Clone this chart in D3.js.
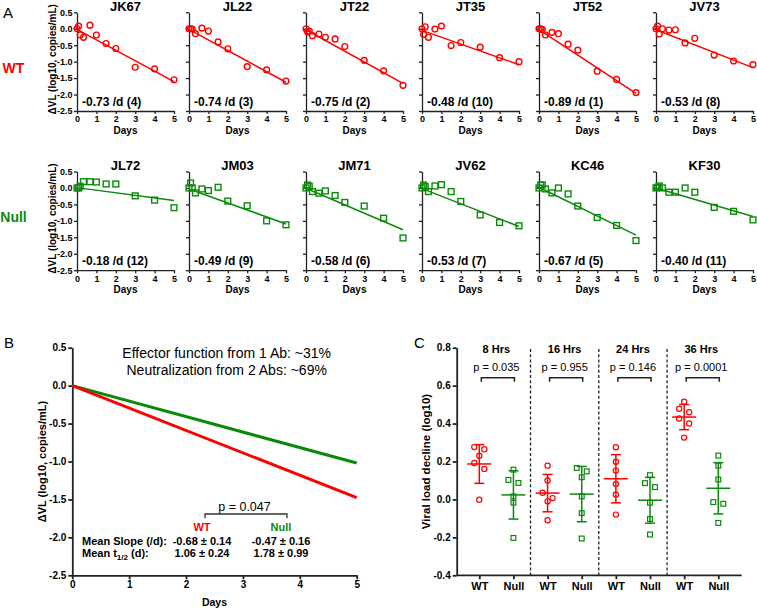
<!DOCTYPE html>
<html><head><meta charset="utf-8">
<script src="https://cdn.jsdelivr.net/npm/d3@7"></script>
<style>
body{margin:0;background:#fff;}
svg{display:block;font-family:"Liberation Sans",Arial,sans-serif;}
.ax path,.ax line{stroke:#222;}
.ax text{fill:#000;font-weight:bold;}
</style></head><body>
<svg id="chart" width="757" height="608"></svg>
<script>
// ---------- DATA ----------
const days = [0, 0.083, 0.167, 0.333, 0.667, 1, 1.5, 2, 3, 4, 5];
const dayTicks = [0, 1, 2, 3, 4, 5];
const vlTicks = [-2.5, -2.0, -1.5, -1.0, -0.5, 0.0, 0.5];

const wtNames = ["JK67", "JL22", "JT22", "JT35", "JT52", "JV73"];
const wtSlopes = [-0.73, -0.74, -0.75, -0.48, -0.89, -0.53];
const wtRanks = [4, 3, 2, 10, 1, 8];
const wtIntercepts = [-0.02, -0.02, -0.03, -0.05, -0.03, -0.03];
const wtValues = [
  [0, 0.08, -0.19, -0.26, 0.11, -0.19, -0.45, -0.60, -1.17, -1.22, -1.55],
  [0, 0.00, -0.01, -0.15, 0.02, -0.07, -0.40, -0.61, -1.15, -1.25, -1.59],
  [0, -0.10, -0.07, -0.21, -0.16, -0.26, -0.31, -0.54, -0.96, -1.28, -1.72],
  [0, -0.17, 0.06, -0.26, -0.01, 0.08, -0.51, -0.42, -0.56, -0.88, -1.00],
  [0, 0.00, -0.02, -0.19, -0.11, -0.15, -0.47, -0.65, -1.29, -1.54, -1.94],
  [0, 0.08, -0.16, 0.00, -0.04, -0.03, -0.43, -0.29, -0.80, -0.98, -1.09]
];

const nullNames = ["JL72", "JM03", "JM71", "JV62", "KC46", "KF30"];
const nullSlopes = [-0.18, -0.49, -0.58, -0.53, -0.67, -0.40];
const nullRanks = [12, 9, 6, 7, 5, 11];
const nullIntercepts = [0.01, -0.03, -0.01, -0.02, 0.02, 0.0];
const nullValues = [
  [0, 0.00, 0.05, 0.19, 0.19, 0.18, 0.12, 0.12, -0.24, -0.37, -0.60],
  [0, 0.15, 0.00, -0.15, -0.03, -0.08, 0.02, -0.40, -0.54, -1.00, -1.12],
  [0, 0.09, 0.05, -0.11, -0.16, -0.09, -0.23, -0.44, -0.55, -0.92, -1.52],
  [0, 0.09, 0.04, -0.11, 0.06, 0.10, -0.11, -0.41, -0.82, -1.05, -1.15],
  [0, 0.09, 0.09, -0.03, -0.15, 0.00, -0.18, -0.55, -0.90, -1.14, -1.60],
  [0, 0.02, 0.06, 0.00, -0.13, -0.13, 0.00, -0.13, -0.59, -0.71, -0.97]
];

// Panel B
const groupNames = ["WT", "Null"];
const meanSlopes = [-0.68, -0.47];
const slopeSD = [0.14, 0.16];
const meanHalfLife = [1.06, 1.78];
const halfLifeSD = [0.24, 0.99];
const slopeP = "0.047";
const contribText = ["Effector function from 1 Ab: ~31%", "Neutralization from 2 Abs: ~69%"];

// Panel C
const timeGroups = ["8 Hrs", "16 Hrs", "24 Hrs", "36 Hrs"];
const timeP = ["0.035", "0.955", "0.146", "0.0001"];
const declineTicks = [-0.4, -0.2, 0.0, 0.2, 0.4, 0.6, 0.8];
const declineWT = [
  [0.265, 0.276, 0.230, 0.192, 0.161, -0.002],
  [0.178, 0.100, 0.035, 0.007, -0.010, -0.110],
  [0.275, 0.199, 0.152, 0.082, 0.026, -0.080],
  [0.515, 0.478, 0.460, 0.427, 0.400, 0.326]
];
const declineNull = [
  [0.157, 0.103, 0.087, 0.016, -0.017, -0.203],
  [0.148, 0.166, 0.117, 0.016, -0.072, -0.206],
  [0.128, 0.086, 0.065, -0.017, -0.103, -0.185],
  [0.231, 0.178, 0.105, -0.014, -0.023, -0.124]
];

// ---------- DRAW ----------
const RED = "#ff0000", GREEN = "#0a8a0a";
const svg = d3.select("#chart");
const f1 = d => d.toFixed(1);
const LN10 = Math.log(10);

function styleAxis(g, w, fs) {
  g.attr("class", "ax");
  g.selectAll("path,line").attr("stroke-width", w);
  g.selectAll("text").attr("font-size", fs);
}

function marker(g, shape, cx, cy, color, r, sw) {
  if (shape === "circle") {
    g.append("circle").attr("cx", cx).attr("cy", cy).attr("r", r)
      .attr("fill", "none").attr("stroke", color).attr("stroke-width", sw);
  } else {
    g.append("rect").attr("x", cx - r).attr("y", cy - r).attr("width", 2 * r).attr("height", 2 * r)
      .attr("fill", "none").attr("stroke", color).attr("stroke-width", sw);
  }
}

// Panel A
const colX = [77, 189, 306, 422, 539, 656];
const panelW = 97;
const rowTop = [12.3, 171.5];
const panelH = 98.7;

function smallPanel(col, row, name, vals, slope, rank, icpt, color, shape) {
  const px = colX[col], top = rowTop[row];
  const x = d3.scaleLinear().domain([0, 5]).range([px, px + panelW]);
  const y = d3.scaleLinear().domain([-2.5, 0.5]).range([top + panelH, top]);
  const g = svg.append("g");
  const ay = g.append("g").attr("transform", `translate(${px},0)`)
    .call(d3.axisLeft(y).tickValues(vlTicks).tickSize(3).tickPadding(1.5).tickSizeOuter(0)
      .tickFormat(col === 0 ? f1 : ""));
  styleAxis(ay, 1.3, 9);
  const ax = g.append("g").attr("transform", `translate(0,${y(-2.5)})`)
    .call(d3.axisBottom(x).tickValues(dayTicks).tickSize(3).tickPadding(2).tickSizeOuter(0)
      .tickFormat(d3.format("d")));
  styleAxis(ax, 1.3, 9);
  g.append("text").attr("x", x(2.5)).attr("y", y(-2.5) + 23).attr("text-anchor", "middle")
    .attr("font-size", 10).attr("font-weight", "bold").text("Days");
  g.append("text").attr("x", x(2.5)).attr("y", top - 1.6).attr("text-anchor", "middle")
    .attr("font-size", 13).attr("font-weight", "bold").text(name);
  // fit line
  const k = slope / LN10;
  g.append("line").attr("x1", x(0)).attr("y1", y(icpt)).attr("x2", x(5)).attr("y2", y(icpt + k * 5))
    .attr("stroke", color).attr("stroke-width", 1.5);
  vals.forEach((v, i) => marker(g, shape, x(days[i]), y(v), color, 2.9, 1.4));
  g.append("text").attr("x", px + 5).attr("y", y(-2.5) - 5.5)
    .attr("font-size", 12).attr("font-weight", "bold")
    .text(`${slope.toFixed(2)} /d (${rank})`);
  if (col === 0) {
    g.append("text").attr("transform", `translate(52,${top + 47}) rotate(-90)`)
      .attr("text-anchor", "middle").attr("dy", "0.35em")
      .attr("font-size", 10).attr("font-weight", "bold").text("ΔVL (log10, copies/mL)");
  }
}
wtNames.forEach((n, i) => smallPanel(i, 0, n, wtValues[i], wtSlopes[i], wtRanks[i], wtIntercepts[i], RED, "circle"));
nullNames.forEach((n, i) => smallPanel(i, 1, n, nullValues[i], nullSlopes[i], nullRanks[i], nullIntercepts[i], GREEN, "square"));

svg.append("text").attr("x", 3).attr("y", 18).attr("font-size", 15).text("A");
svg.append("text").attr("x", 13.5).attr("y", 73.3).attr("text-anchor", "middle")
  .attr("font-size", 14).attr("font-weight", "bold").attr("fill", RED).text("WT");
svg.append("text").attr("x", 13.5).attr("y", 221.7).attr("text-anchor", "middle")
  .attr("font-size", 14).attr("font-weight", "bold").attr("fill", GREEN).text("Null");

// Panel B
{
  const x = d3.scaleLinear().domain([0, 5]).range([72.3, 356.7]);
  const y = d3.scaleLinear().domain([-2.5, 0.5]).range([575.3, 347.7]);
  const g = svg.append("g");
  const ay = g.append("g").attr("transform", `translate(${x(0)},0)`)
    .call(d3.axisLeft(y).tickValues(vlTicks).tickSize(4).tickPadding(2).tickSizeOuter(0).tickFormat(f1));
  styleAxis(ay, 1.8, 10);
  const ax = g.append("g").attr("transform", `translate(0,${y(-2.5)})`)
    .call(d3.axisBottom(x).tickValues(dayTicks).tickSize(4).tickPadding(2).tickSizeOuter(0).tickFormat(d3.format("d")));
  styleAxis(ax, 1.8, 10);
  g.append("text").attr("x", x(2.5)).attr("y", 606).attr("text-anchor", "middle")
    .attr("font-size", 10.5).attr("font-weight", "bold").text("Days");
  g.append("text").attr("transform", `translate(42,461.5) rotate(-90)`).attr("text-anchor", "middle")
    .attr("dy", "0.35em").attr("font-size", 11).attr("font-weight", "bold").text("ΔVL (log10, copies/mL)");
  const cols = [RED, GREEN];
  [1, 0].forEach(i => {
    const k = meanSlopes[i] / LN10;
    g.append("line").attr("x1", x(0)).attr("y1", y(0)).attr("x2", x(5)).attr("y2", y(k * 5))
      .attr("stroke", cols[i]).attr("stroke-width", 3);
  });
  contribText.forEach((t, i) => g.append("text").attr("x", 226.7).attr("y", 358.3 + i * 16.7)
    .attr("text-anchor", "middle").attr("font-size", 14).text(t));
  const cx = [202, 281];
  g.append("text").attr("x", 244.5).attr("y", 511).attr("text-anchor", "middle").attr("font-size", 12.5).text(`p = ${slopeP}`);
  g.append("path").attr("d", `M205,518.3V514H287V518.3`).attr("fill", "none").attr("stroke", "#333").attr("stroke-width", 1.3);
  groupNames.forEach((n, i) => {
    g.append("text").attr("x", cx[i]).attr("y", 531.3).attr("text-anchor", "middle")
      .attr("font-size", 11).attr("font-weight", "bold").attr("fill", cols[i]).text(n);
    g.append("text").attr("x", cx[i]).attr("y", 544.7).attr("text-anchor", "middle")
      .attr("font-size", 11).attr("font-weight", "bold").text(`${meanSlopes[i].toFixed(2)} ± ${slopeSD[i].toFixed(2)}`);
    g.append("text").attr("x", cx[i]).attr("y", 557.3).attr("text-anchor", "middle")
      .attr("font-size", 11).attr("font-weight", "bold").text(`${meanHalfLife[i].toFixed(2)} ± ${halfLifeSD[i].toFixed(2)}`);
  });
  g.append("text").attr("x", 82).attr("y", 544.7).attr("font-size", 11).attr("font-weight", "bold").text("Mean Slope (/d):");
  const t2 = g.append("text").attr("x", 82).attr("y", 557.3).attr("font-size", 11).attr("font-weight", "bold");
  t2.append("tspan").text("Mean t");
  t2.append("tspan").attr("dy", 3).attr("font-size", 8).text("1/2");
  t2.append("tspan").attr("dy", -3).text(" (d):");
  svg.append("text").attr("x", 4).attr("y", 348).attr("font-size", 15).text("B");
}

// Panel C
{
  const y = d3.scaleLinear().domain([-0.4, 0.8]).range([575.3, 347.7]);
  const cats = [];
  timeGroups.forEach((t, i) => { cats.push(i + "WT"); cats.push(i + "Null"); });
  const x = d3.scalePoint().domain(cats).range([479.3, 718.3]);
  const g = svg.append("g");
  const ay = g.append("g").attr("transform", `translate(456.7,0)`)
    .call(d3.axisLeft(y).tickValues(declineTicks).tickSize(4).tickPadding(2).tickSizeOuter(0).tickFormat(f1));
  styleAxis(ay, 1.8, 10);
  const ax = g.append("g").attr("transform", `translate(0,${y(-0.4)})`)
    .call(d3.axisBottom(x).tickSize(4).tickPadding(3).tickSizeOuter(0).tickFormat(d => d.replace(/^\d/, "")));
  ax.select("path.domain").attr("d", `M456.7,0H741.7`);
  styleAxis(ax, 1.8, 11);
  g.append("text").attr("transform", `translate(426,461.5) rotate(-90)`).attr("text-anchor", "middle")
    .attr("dy", "0.35em").attr("font-size", 11.5).attr("font-weight", "bold").text("Viral load decline (log10)");
  const step = x.step();
  for (let i = 0; i < timeGroups.length - 1; i++) {
    const dx = x((i) + "Null") + step / 2;
    g.append("line").attr("x1", dx).attr("x2", dx).attr("y1", 349).attr("y2", y(-0.4))
      .attr("stroke", "#222").attr("stroke-width", 1.3).attr("stroke-dasharray", "3,2.2");
  }
  function column(vals, cxp, color, shape) {
    const m = d3.mean(vals), sd = d3.deviation(vals);
    // simple jitter: neighbouring values that would overlap are split left/right
    const order = vals.map((v, i) => i).sort((a, b) => vals[b] - vals[a]);
    const off = new Array(vals.length).fill(0);
    for (let j = 0; j < order.length - 1; j++) {
      const a = order[j], b = order[j + 1];
      if (off[a] === 0 && Math.abs(y(vals[a]) - y(vals[b])) < 6) { off[a] = -5; off[b] = 5; j++; }
    }
    vals.forEach((v, i) => marker(g, shape, cxp + off[i], y(v), color, shape === "circle" ? 2.6 : 2.4, 1.2));
    g.append("line").attr("x1", cxp - 12).attr("x2", cxp + 12).attr("y1", y(m)).attr("y2", y(m))
      .attr("stroke", color).attr("stroke-width", 1.5);
    g.append("line").attr("x1", cxp).attr("x2", cxp).attr("y1", y(m + sd)).attr("y2", y(m - sd))
      .attr("stroke", color).attr("stroke-width", 1.5);
    [m + sd, m - sd].forEach(v => g.append("line").attr("x1", cxp - 5).attr("x2", cxp + 5)
      .attr("y1", y(v)).attr("y2", y(v)).attr("stroke", color).attr("stroke-width", 1.5));
  }
  timeGroups.forEach((t, i) => {
    const xw = x(i + "WT"), xn = x(i + "Null");
    column(declineWT[i], xw, RED, "circle");
    column(declineNull[i], xn, GREEN, "square");
    const mid = (xw + xn) / 2;
    g.append("text").attr("x", mid).attr("y", 353.3).attr("text-anchor", "middle")
      .attr("font-size", 11).attr("font-weight", "bold").text(t);
    g.append("text").attr("x", mid).attr("y", 370.5).attr("text-anchor", "middle")
      .attr("font-size", 11).text(`p = ${timeP[i]}`);
    g.append("path").attr("d", `M${xw + 2},381.7V377.7H${xn + 1}V381.7`).attr("fill", "none")
      .attr("stroke", "#222").attr("stroke-width", 1.5);
  });
  svg.append("text").attr("x", 414).attr("y", 348).attr("font-size", 15).text("C");
}
</script>
</body></html>
